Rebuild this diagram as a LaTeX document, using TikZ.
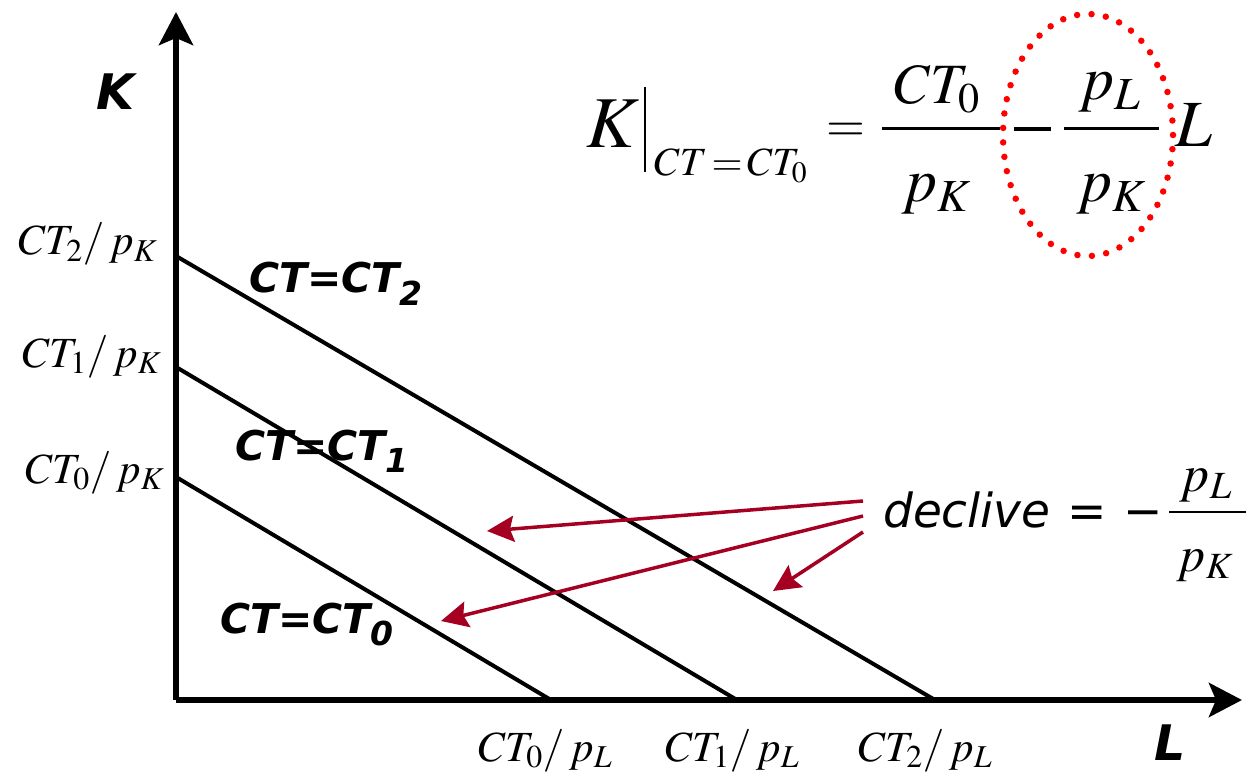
\documentclass[tikz,border=0pt]{standalone}
\usepackage{amsmath}
\usepackage{mathptmx}
\usepackage[no-math]{fontspec}
\newfontfamily\verd{DejaVu Sans}
\usetikzlibrary{arrows.meta}
\definecolor{darkred}{HTML}{A50021}
\newcommand{\fs}[1]{\fontsize{#1}{#1}\selectfont}
\newcommand{\ctsub}[1]{\raisebox{-0.3em}{\fontsize{33}{35}\selectfont #1}}
\begin{document}
\begin{tikzpicture}[x=1pt,y=-1pt,
 axis/.style={line width=6pt,-{Stealth[length=33pt,width=34pt,inset=7pt]}},
 ctline/.style={line width=4pt},
 ctlab/.style={font=\verd\bfseries\itshape\fs{41},inner sep=0pt,anchor=base west},
 axlab/.style={font=\verd\bfseries\itshape\fs{49},inner sep=0pt},
 tick/.style={font=\fs{43},inner sep=0pt,anchor=base west},
 eqpart/.style={inner sep=0pt,anchor=base},
 redarrow/.style={draw=darkred,line width=3.5pt,-{Stealth[length=27pt,width=26pt,inset=4pt]}}
]
\useasboundingbox (0,0) rectangle (1251,778);
% axes
\coordinate (O) at (176,700);
\coordinate (ytip) at (176,12);
\coordinate (xtip) at (1242,700);
\draw[axis] (O) -- (ytip);
\draw[axis] (O) -- (xtip);
\node[axlab] (Klab) at (115,92) {K};
\node[axlab] (Llab) at (1170,743) {L};
% budget lines
\coordinate (k2) at (176,256); \coordinate (l2) at (935,700);
\coordinate (k1) at (176,367); \coordinate (l1) at (737,700);
\coordinate (k0) at (176,477); \coordinate (l0) at (551,700);
\draw[ctline] (k2) -- (l2);
\draw[ctline] (k1) -- (l1);
\draw[ctline] (k0) -- (l0);
% tick labels
\node[tick] (tk2) at (18,255) {$CT_2/\,p_K$};
\node[tick] (tk1) at (22,367) {$CT_1/\,p_K$};
\node[tick] (tk0) at (25,483) {$CT_0/\,p_K$};
\node[tick] (tl0) at (478,761) {$CT_0/\,p_L$};
\node[tick] (tl1) at (665,761) {$CT_1/\,p_L$};
\node[tick] (tl2) at (858,761) {$CT_2/\,p_L$};
% line labels
\node[ctlab] (c2) at (249,293) {CT=CT\ctsub{2}};
\node[ctlab] (c1) at (235,460) {CT=CT\ctsub{1}};
\node[ctlab] (c0) at (220,633) {CT=CT\ctsub{0}};
% slope label
\node[inner sep=0pt,anchor=base west,font=\verd\itshape\fs{47}] (dec) at (883,527) {declive};
\node[eqpart,font=\verd\fs{47}] (deceq) at (1087,527) {=};
\node[eqpart,font=\verd\fs{47}] (decmin) at (1143,527) {−};
\coordinate (db1) at (1169,512); \coordinate (db2) at (1246,512);
\draw[line width=2pt] (db1) -- (db2);
\node[eqpart,font=\fs{52}] (decnum) at (1206,491) {$p_L$};
\node[eqpart,font=\fs{50}] (decden) at (1205,571) {$p_K$};
% red arrows
\coordinate (a1) at (863,501);
\coordinate (a2) at (863,516);
\coordinate (a3) at (863,532);
\coordinate (t1) at (487,531);
\coordinate (t2) at (441,621);
\coordinate (t3) at (773,591);
\draw[redarrow] (a1) -- (t1);
\draw[redarrow] (a2) -- (t2);
\draw[redarrow] (a3) -- (t3);
% equation
\node[inner sep=0pt,anchor=base west,font=\fs{73}] (eqK) at (586,148) {$K$};
\coordinate (vb1) at (645,87); \coordinate (vb2) at (645,172);
\draw[line width=2.5pt] (vb1) -- (vb2);
\node[inner sep=0pt,anchor=base west,font=\fs{40}] (eqsub) at (654,176) {$CT\!=\!CT_0$};
\node[eqpart,font=\fs{50}] (eqeq) at (846,142) {$=$};
\coordinate (f1a) at (882,129); \coordinate (f1b) at (1000,129);
\draw[line width=3pt] (f1a) -- (f1b);
\node[eqpart,font=\fs{57}] (f1n) at (937,104) {$CT_0$};
\node[eqpart,font=\fs{62}] (f1d) at (936,202) {$p_K$};
\coordinate (m1) at (1014,129); \coordinate (m2) at (1051,129);
\draw[line width=4pt] (m1) -- (m2);
\coordinate (f2a) at (1064,129); \coordinate (f2b) at (1159,129);
\draw[line width=3pt] (f2a) -- (f2b);
\node[eqpart,font=\fs{62}] (f2n) at (1110,100) {$p_L$};
\node[eqpart,font=\fs{62}] (f2d) at (1111,202) {$p_K$};
\node[inner sep=0pt,anchor=base west,font=\fs{66}] (eqL) at (1175,147) {$L$};
\draw[red,line width=6.5pt,line cap=round,dash pattern=on 0pt off 14.5pt]
  (1088,135) ellipse [x radius=85pt,y radius=121pt];
\end{tikzpicture}
\end{document}
